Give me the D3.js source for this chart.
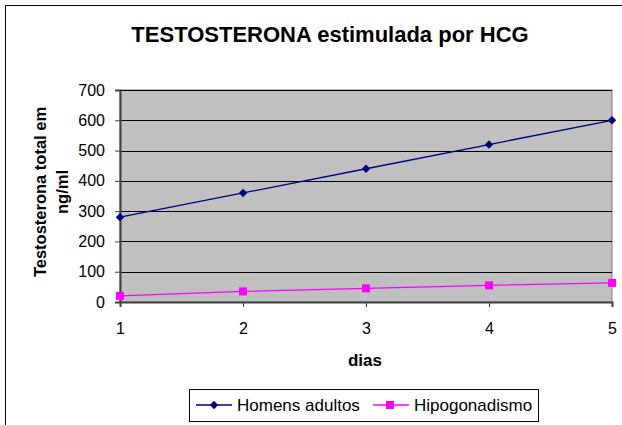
<!DOCTYPE html>
<html>
<head>
<meta charset="utf-8">
<script src="https://cdn.jsdelivr.net/npm/d3@7"></script>
<style>
  body { margin: 0; background: #fff; }
  text { font-family: Arial, "Liberation Sans", sans-serif; }
</style>
</head>
<body>
<div id="viz"></div>
<script>
// chart data
var dias = [1, 2, 3, 4, 5]
var homensAdultos = [280, 360, 440, 520, 600]
var hipogonadismo = [20, 35, 45, 55, 63]
var yTicks = [0, 100, 200, 300, 400, 500, 600, 700]
var seriesNames = ["Homens adultos", "Hipogonadismo"]

var W = 622, H = 425
var plot = { left: 120, right: 612, top: 90, bottom: 302 }
var fontFam = "Arial, 'Liberation Sans', sans-serif"

var svg = d3.select("#viz")
    .append("svg")
    .attr("width", W)
    .attr("height", H)

// outer chart frame (runs off the right and bottom edges)
svg.append("rect")
    .attr("x", 5.5).attr("y", 5.5)
    .attr("width", W + 10).attr("height", H + 10)
    .style("fill", "white")
    .style("stroke", "black")
    .style("stroke-width", 1)

var x = d3.scaleLinear().domain([1, 5]).range([plot.left, plot.right])
var y = d3.scaleLinear().domain([0, 700]).range([plot.bottom, plot.top])

// plot area
svg.append("rect")
    .attr("x", plot.left).attr("y", plot.top)
    .attr("width", plot.right - plot.left)
    .attr("height", plot.bottom - plot.top)
    .style("fill", "#c0c0c0")
    .style("stroke", "#808080")

// gridlines
svg.append("g")
    .selectAll("line")
    .data(yTicks.filter(d => d > 0))
    .enter()
    .append("line")
    .attr("x1", plot.left).attr("x2", plot.right)
    .attr("y1", d => Math.round(y(d)) + 0.5)
    .attr("y2", d => Math.round(y(d)) + 0.5)
    .style("stroke", "black")
    .style("stroke-width", 1)

// y axis
var yAxis = svg.append("g")
    .attr("transform", "translate(" + plot.left + ",0)")
    .call(d3.axisLeft(y).tickValues(yTicks).tickSize(5).tickPadding(10))
yAxis.select(".domain").style("stroke", "#404040").style("stroke-width", 2)
yAxis.selectAll(".tick line").style("stroke", "#404040")
yAxis.selectAll("text").style("font-size", "16px").style("fill", "black")
    .style("font-family", fontFam)

// x axis
var xAxis = svg.append("g")
    .attr("transform", "translate(0," + plot.bottom + ")")
    .call(d3.axisBottom(x).tickValues(dias).tickFormat(d3.format("d")).tickSize(5).tickPadding(16))
xAxis.select(".domain").style("stroke", "#404040").style("stroke-width", 2)
xAxis.selectAll(".tick line").style("stroke", "#404040")
xAxis.selectAll("text").style("font-size", "16px").style("fill", "black")
    .style("font-family", fontFam)

// lines
var line = d3.line().x((d, i) => x(dias[i])).y(d => y(d))

svg.append("path")
    .datum(homensAdultos)
    .attr("d", line)
    .style("fill", "none")
    .style("stroke", "#000080")
    .style("stroke-width", 1.3)

svg.append("path")
    .datum(hipogonadismo)
    .attr("d", line)
    .style("fill", "none")
    .style("stroke", "#ff00ff")
    .style("stroke-width", 1.3)

// markers
svg.append("g")
    .selectAll("path")
    .data(homensAdultos)
    .enter()
    .append("path")
    .attr("d", d3.symbol().type(d3.symbolDiamond2).size(45))
    .attr("transform", (d, i) => "translate(" + x(dias[i]) + "," + y(d) + ")")
    .style("fill", "#000080")

svg.append("g")
    .selectAll("rect")
    .data(hipogonadismo)
    .enter()
    .append("rect")
    .attr("x", (d, i) => x(dias[i]) - 4)
    .attr("y", d => y(d) - 4)
    .attr("width", 8).attr("height", 8)
    .style("fill", "#ff00ff")

// title
svg.append("text")
    .attr("x", 330).attr("y", 42)
    .attr("text-anchor", "middle")
    .style("font-size", "22px")
    .style("font-weight", "bold")
    .text("TESTOSTERONA estimulada por HCG")

// axis titles
svg.append("text")
    .attr("x", 365).attr("y", 366)
    .attr("text-anchor", "middle")
    .style("font-size", "17px")
    .style("font-weight", "bold")
    .text("dias")

var yTitle = svg.append("text")
    .attr("transform", "translate(46,192) rotate(-90)")
    .attr("text-anchor", "middle")
    .style("font-size", "16.5px")
    .style("font-weight", "bold")
yTitle.append("tspan").attr("x", 0).attr("dy", 0).text("Testosterona total em")
yTitle.append("tspan").attr("x", 0).attr("dy", 22).text("ng/ml")

// legend
svg.append("rect")
    .attr("x", 189.5).attr("y", 389.5)
    .attr("width", 349).attr("height", 32)
    .style("fill", "white")
    .style("stroke", "black")

var legendItems = [
    { name: seriesNames[0], color: "#000080", x0: 196, marker: "diamond" },
    { name: seriesNames[1], color: "#ff00ff", x0: 373, marker: "square" }
]

legendItems.forEach(function(item) {
    var g = svg.append("g").attr("transform", "translate(" + item.x0 + ",405)")
    g.append("line")
        .attr("x1", 0).attr("x2", 36)
        .style("stroke", item.color).style("stroke-width", 1.3)
    if (item.marker == "diamond") {
        g.append("path")
            .attr("d", d3.symbol().type(d3.symbolDiamond2).size(45))
            .attr("transform", "translate(18,0)")
            .style("fill", item.color)
    } else {
        g.append("rect")
            .attr("x", 13).attr("y", -4).attr("width", 8).attr("height", 8)
            .style("fill", item.color)
    }
    g.append("text")
        .attr("x", 41).attr("y", 6)
        .style("font-size", "17px")
        .text(item.name)
})
</script>
</body>
</html>
